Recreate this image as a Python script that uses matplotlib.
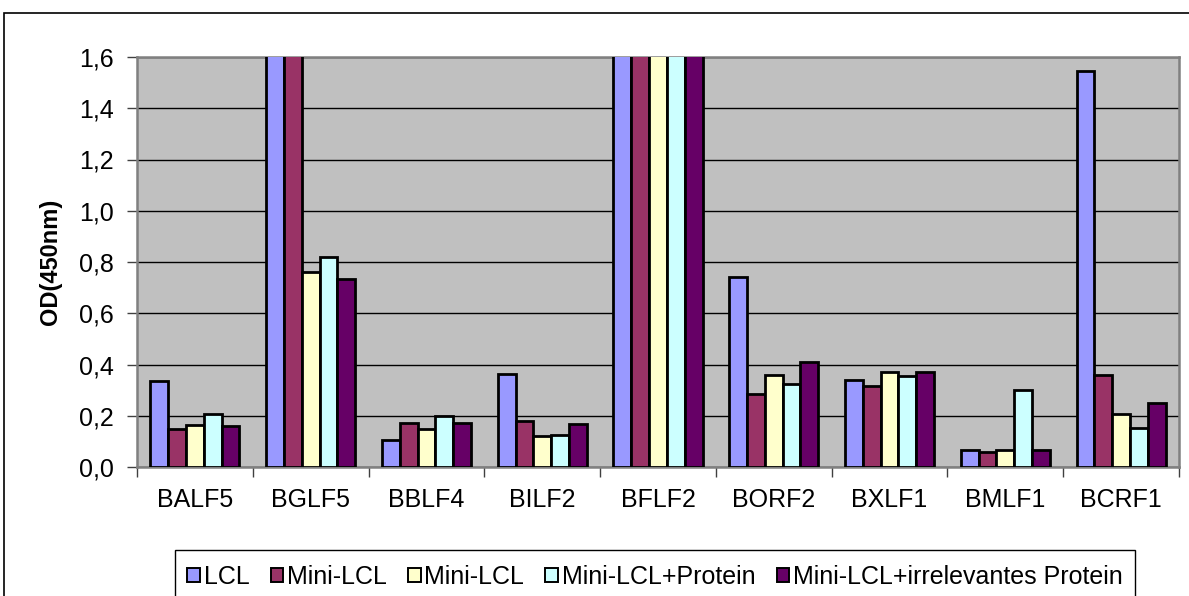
import matplotlib.pyplot as plt
from matplotlib.patches import Rectangle, Patch
import numpy as np

plt.rcParams['font.family'] = ['Liberation Sans', 'DejaVu Sans']

# Kategorien und Messwerte (Werte > 1,6 liegen ausserhalb der Skala)
genes = ["BALF5", "BGLF5", "BBLF4", "BILF2", "BFLF2", "BORF2", "BXLF1", "BMLF1", "BCRF1"]
series = ["LCL", "Mini-LCL", "Mini-LCL", "Mini-LCL+Protein", "Mini-LCL+irrelevantes Protein"]
lcl = [0.336, 2.5, 0.104, 0.362, 2.5, 0.741, 0.338, 0.068, 1.545]
mini_lcl = [0.148, 2.5, 0.172, 0.180, 2.5, 0.286, 0.317, 0.060, 0.359]
mini_lcl_2 = [0.164, 0.760, 0.148, 0.122, 2.5, 0.359, 0.372, 0.068, 0.206]
mini_protein = [0.208, 0.820, 0.198, 0.125, 2.5, 0.323, 0.354, 0.302, 0.151]
mini_irrel = [0.161, 0.735, 0.172, 0.168, 2.5, 0.409, 0.372, 0.066, 0.250]
colors = ["#9999FF", "#993366", "#FFFFCC", "#CCFFFF", "#660066"]
yticks = [0.0, 0.2, 0.4, 0.6, 0.8, 1.0, 1.2, 1.4, 1.6]

W, H = 1189, 596
fig = plt.figure(figsize=(W / 100, H / 100), dpi=100)
ax = fig.add_axes([137 / W, 1 - 467 / H, (1179 - 137) / W, (467 - 57) / H])
ax.set_facecolor("#C0C0C0")

x = np.arange(len(genes))
bw = 1 / 6.5
data = [lcl, mini_lcl, mini_lcl_2, mini_protein, mini_irrel]
for i, (vals, col) in enumerate(zip(data, colors)):
    ax.bar(x + (i - 2) * bw, vals, width=bw, color=col, edgecolor="black",
           linewidth=2, zorder=3)

ax.set_xlim(-0.5, len(genes) - 0.5)
ax.set_ylim(0, 1.6)
ax.set_yticks(yticks)
ax.set_yticklabels([f"{v:.1f}".replace(".", ",") for v in yticks], fontsize=18)
ax.yaxis.grid(True, color="black", linewidth=1)
ax.set_axisbelow(True)

ax.set_xticks(x)
ax.set_xticklabels(genes, fontsize=18)
ax.set_xticks(np.arange(len(genes) + 1) - 0.5, minor=True)
ax.tick_params(axis="x", which="major", length=0, pad=15)
ax.tick_params(axis="x", which="minor", length=7, width=1, color="#404040")
ax.tick_params(axis="y", length=7, width=1, color="#404040", pad=10)

for s in ax.spines.values():
    s.set_color("#808080")
    s.set_linewidth(1.8)

ax.set_ylabel("OD(450nm)", fontsize=17, fontweight="bold", labelpad=12)

# Legende
handles = [Patch(facecolor=c, edgecolor="black", linewidth=1.4) for c in colors]
fig.legend(handles, series, ncol=5, loc="center",
           bbox_to_anchor=(655 / W, 1 - 577 / H), frameon=False,
           handlelength=0.5, handleheight=0.5, handletextpad=0.15,
           columnspacing=0.85, fontsize=18)
fig.add_artist(Rectangle((175 / W, -0.1), (1135 - 175) / W, 0.1 + (596 - 550) / H,
                         transform=fig.transFigure, fill=False,
                         edgecolor="black", linewidth=1, clip_on=False))

# Rahmen um das Diagramm
fig.add_artist(Rectangle((4 / W, -0.1), 1.2, 0.1 + (596 - 13) / H,
                         transform=fig.transFigure, fill=False,
                         edgecolor="black", linewidth=1.2, clip_on=False))

fig.savefig("out.png", dpi=100)
